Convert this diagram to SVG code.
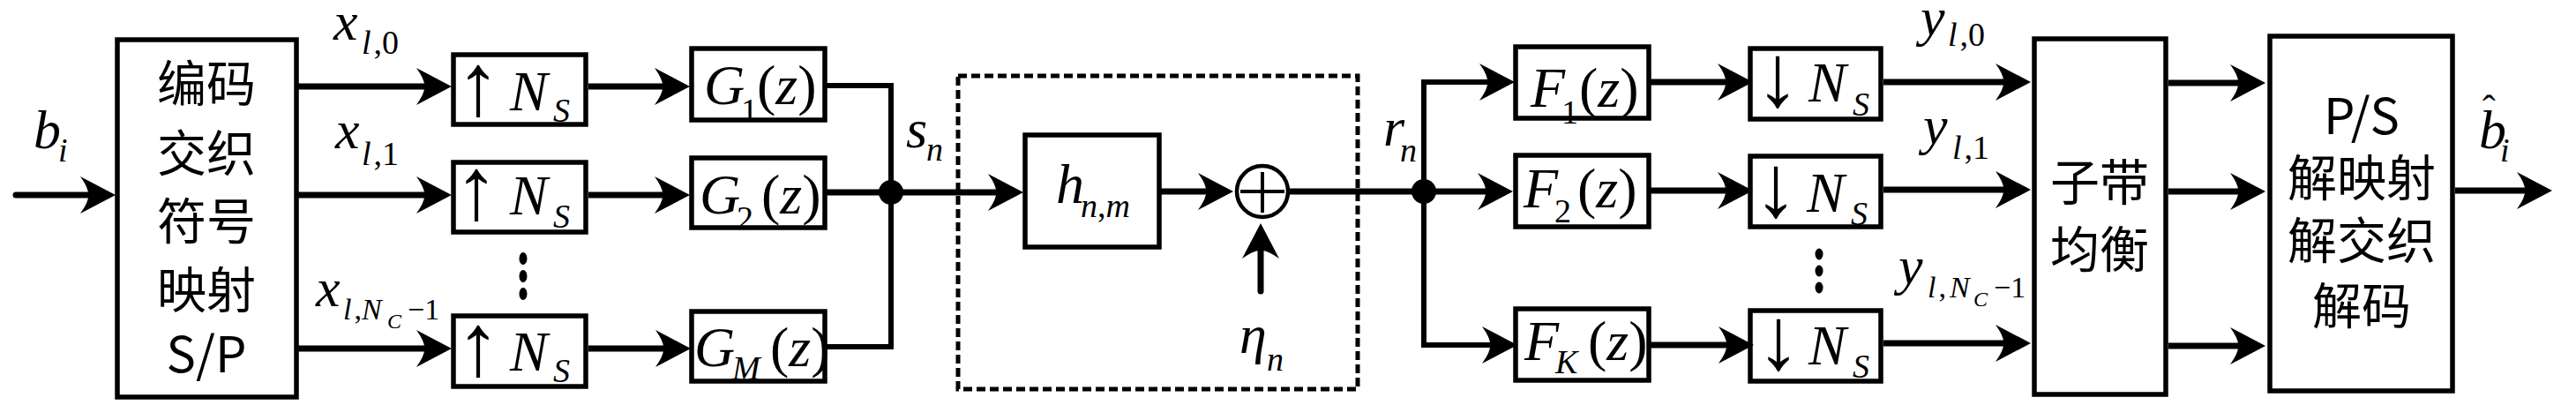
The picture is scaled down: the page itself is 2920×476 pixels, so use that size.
<svg xmlns="http://www.w3.org/2000/svg" width="2920" height="476" viewBox="0 0 2920 476">
<style>
.box{fill:none;stroke:#000;stroke-width:5.5}
.cjk{font-family:"Noto Sans CJK SC","Noto Sans",sans-serif;font-size:56px;text-anchor:middle;fill:#000}
.m{font-family:"Liberation Serif",serif;font-size:62px;fill:#000}
.b{font-family:"Liberation Serif",serif;font-size:64px;fill:#000}
.ar{font-family:"Liberation Serif",serif;font-size:100px;fill:#000}
.i{font-style:italic}
.s{font-size:38px}
.ss{font-size:24px}
.w{stroke:#000;stroke-width:7;fill:none}
.t{stroke:#000;stroke-width:6;fill:none}
.dot{fill:#000}
</style>
<defs>
<marker id="ah" markerUnits="userSpaceOnUse" orient="auto" refX="0" refY="0" markerWidth="60" markerHeight="60" overflow="visible">
<path d="M28,0 L-12,-21 Q-2,-7 -3,0 Q-2,7 -12,21 Z" fill="#000"/>
</marker>
</defs>
<rect width="2920" height="476" fill="#fff"/>

<g id="encoder">
<rect class="box" x="133" y="45" width="203" height="405"/>
<text class="cjk" x="234" y="115">编码</text>
<text class="cjk" x="234" y="194">交织</text>
<text class="cjk" x="234" y="271">符号</text>
<text class="cjk" x="234" y="349">映射</text>
<text class="cjk" x="234" y="422">S/P</text>
</g>

<g id="up1">
<rect class="box" x="514" y="62" width="150" height="79"/>
<text class="ar" x="517" y="130">↑</text>
<text class="b"><tspan class="i" x="578" y="125">N</tspan><tspan class="i s" x="627" y="138">S</tspan></text>
</g>
<g id="up2">
<rect class="box" x="514" y="184" width="150" height="79"/>
<text class="ar" x="515" y="248">↑</text>
<text class="b"><tspan class="i" x="578" y="243">N</tspan><tspan class="i s" x="627" y="258">S</tspan></text>
</g>
<g id="up3">
<rect class="box" x="514" y="358" width="150" height="80"/>
<text class="ar" x="517" y="425">↑</text>
<text class="b"><tspan class="i" x="578" y="420">N</tspan><tspan class="i s" x="627" y="433">S</tspan></text>
</g>
<g id="dots-left">
<ellipse class="dot" cx="593" cy="293" rx="4.5" ry="7"/>
<ellipse class="dot" cx="593" cy="313" rx="4.5" ry="7"/>
<ellipse class="dot" cx="593" cy="333" rx="4.5" ry="7"/>
</g>

<g id="g1">
<rect class="box" x="784" y="55" width="151" height="81"/>
<text class="b"><tspan class="i" x="798" y="118">G</tspan><tspan class="s" x="840" y="138">1</tspan><tspan x="858" y="118">(</tspan><tspan class="i">z</tspan><tspan>)</tspan></text>
</g>
<g id="g2">
<rect class="box" x="784" y="179" width="151" height="79"/>
<text class="b"><tspan class="i" x="793" y="242">G</tspan><tspan class="s" x="835" y="260">2</tspan><tspan x="863" y="242">(</tspan><tspan class="i">z</tspan><tspan>)</tspan></text>
</g>
<g id="gM">
<rect class="box" x="784" y="353" width="151" height="79"/>
<text class="b"><tspan class="i" x="787" y="415">G</tspan><tspan class="i s" x="830" y="430">M</tspan><tspan x="873" y="415">(</tspan><tspan class="i">z</tspan><tspan>)</tspan></text>
</g>

<g id="channel">
<rect x="1086" y="86" width="453" height="355" fill="none" stroke="#000" stroke-width="5" stroke-dasharray="10 5"/>
</g>
<g id="h">
<rect class="box" x="1162" y="153" width="152" height="127"/>
<text class="b"><tspan class="i" x="1197" y="230">h</tspan><tspan class="i s" x="1225" y="246">n</tspan><tspan class="s">,</tspan><tspan class="i s">m</tspan></text>
</g>
<g id="sum">
<circle cx="1431" cy="217" r="29" fill="none" stroke="#000" stroke-width="4.5"/>
<line x1="1406" y1="217" x2="1456" y2="217" stroke="#000" stroke-width="4"/>
<line x1="1431" y1="195" x2="1431" y2="241" stroke="#000" stroke-width="4"/>
</g>

<g id="f1">
<rect class="box" x="1718" y="53" width="151" height="81"/>
<text class="b"><tspan class="i" x="1735" y="121">F</tspan><tspan class="s" x="1770" y="140">1</tspan><tspan x="1790" y="121">(</tspan><tspan class="i">z</tspan><tspan>)</tspan></text>
</g>
<g id="f2">
<rect class="box" x="1718" y="176" width="151" height="81"/>
<text class="b"><tspan class="i" x="1727" y="235">F</tspan><tspan class="s" x="1762" y="252">2</tspan><tspan x="1788" y="235">(</tspan><tspan class="i">z</tspan><tspan>)</tspan></text>
</g>
<g id="fK">
<rect class="box" x="1718" y="350" width="151" height="81"/>
<text class="b"><tspan class="i" x="1728" y="408">F</tspan><tspan class="i s" x="1763" y="423">K</tspan><tspan x="1800" y="408">(</tspan><tspan class="i">z</tspan><tspan>)</tspan></text>
</g>

<g id="dn1">
<rect class="box" x="1984" y="55" width="148" height="80"/>
<text class="ar" x="1990" y="120">↓</text>
<text class="b"><tspan class="i" x="2050" y="115">N</tspan><tspan class="i s" x="2100" y="131">S</tspan></text>
</g>
<g id="dn2">
<rect class="box" x="1984" y="177" width="148" height="80"/>
<text class="ar" x="1988" y="245">↓</text>
<text class="b"><tspan class="i" x="2048" y="240">N</tspan><tspan class="i s" x="2098" y="255">S</tspan></text>
</g>
<g id="dn3">
<rect class="box" x="1984" y="352" width="148" height="80"/>
<text class="ar" x="1991" y="418">↓</text>
<text class="b"><tspan class="i" x="2050" y="413">N</tspan><tspan class="i s" x="2100" y="428">S</tspan></text>
</g>
<g id="dots-right">
<ellipse class="dot" cx="2062" cy="288" rx="4.5" ry="6.5"/>
<ellipse class="dot" cx="2062" cy="307" rx="4.5" ry="6.5"/>
<ellipse class="dot" cx="2062" cy="326" rx="4.5" ry="6.5"/>
</g>

<g id="equalizer">
<rect class="box" x="2306" y="44" width="149" height="403"/>
<text class="cjk" x="2380" y="227">子带</text>
<text class="cjk" x="2380" y="303">均衡</text>
</g>

<g id="decoder">
<rect class="box" x="2573" y="41" width="207" height="402"/>
<text class="cjk" x="2677" y="152">P/S</text>
<text class="cjk" x="2677" y="222">解映射</text>
<text class="cjk" x="2677" y="293">解交织</text>
<text class="cjk" x="2677" y="367">解码</text>
</g>

<g id="connectors">
<line class="w" x1="18" y1="221" x2="103" y2="221" stroke-linecap="round" marker-end="url(#ah)"/>
<line class="w" x1="338" y1="98" x2="484" y2="98" marker-end="url(#ah)"/>
<line class="w" x1="338" y1="221" x2="484" y2="221" marker-end="url(#ah)"/>
<line class="w" x1="338" y1="395" x2="484" y2="395" marker-end="url(#ah)"/>
<line class="w" x1="667" y1="98" x2="754" y2="98" marker-end="url(#ah)"/>
<line class="w" x1="667" y1="221" x2="754" y2="221" marker-end="url(#ah)"/>
<line class="w" x1="667" y1="395" x2="755" y2="395" marker-end="url(#ah)"/>
<polyline class="t" points="937,97 1010,97 1010,393 937,393"/>
<line class="w" x1="937" y1="218" x2="1132" y2="218" marker-end="url(#ah)"/>
<circle class="dot" cx="1010" cy="218" r="14"/>
<line class="w" x1="1316" y1="217" x2="1370" y2="217" marker-end="url(#ah)"/>
<line class="w" x1="1429" y1="330" x2="1429" y2="281" stroke-linecap="round" marker-end="url(#ah)"/>
<line class="w" x1="1460" y1="217" x2="1614" y2="217"/>
<circle class="dot" cx="1614" cy="217" r="14"/>
<polyline class="t" points="1689,93 1614,93 1614,391 1692,391"/>
<line class="t" x1="1614" y1="93" x2="1689" y2="93" marker-end="url(#ah)"/>
<line class="w" x1="1614" y1="217" x2="1687" y2="217" marker-end="url(#ah)"/>
<line class="t" x1="1614" y1="391" x2="1692" y2="391" marker-end="url(#ah)"/>
<line class="w" x1="1871" y1="93" x2="1959" y2="93" marker-end="url(#ah)"/>
<line class="w" x1="1871" y1="216" x2="1959" y2="216" marker-end="url(#ah)"/>
<line class="w" x1="1871" y1="391" x2="1960" y2="391" marker-end="url(#ah)"/>
<line class="w" x1="2135" y1="93" x2="2274" y2="93" marker-end="url(#ah)"/>
<line class="w" x1="2135" y1="215" x2="2274" y2="215" marker-end="url(#ah)"/>
<line class="w" x1="2135" y1="389" x2="2274" y2="389" marker-end="url(#ah)"/>
<line class="w" x1="2458" y1="94" x2="2540" y2="94" marker-end="url(#ah)"/>
<line class="w" x1="2458" y1="217" x2="2540" y2="217" marker-end="url(#ah)"/>
<line class="w" x1="2458" y1="392" x2="2540" y2="392" marker-end="url(#ah)"/>
<line class="w" x1="2783" y1="216" x2="2865" y2="216" marker-end="url(#ah)"/>
</g>

<g id="labels">
<text class="m"><tspan class="i" x="38" y="168">b</tspan><tspan class="i s" x="66" y="183">i</tspan></text>
<text class="m"><tspan class="i" x="378" y="45">x</tspan><tspan class="i s" x="410" y="61">l</tspan><tspan class="s" dx="3">,0</tspan></text>
<text class="m"><tspan class="i" x="380" y="168">x</tspan><tspan class="i s" x="410" y="187">l</tspan><tspan class="s" dx="3">,1</tspan></text>
<text class="m"><tspan class="i" x="358" y="347">x</tspan><tspan class="i s" x="389" y="362" style="font-size:34px">l</tspan><tspan style="font-size:34px" dx="3">,</tspan><tspan class="i" x="410" y="362" style="font-size:34px">N</tspan><tspan class="i ss" x="439" y="372">C</tspan><tspan x="462" y="362" style="font-size:34px">−1</tspan></text>
<text class="m"><tspan class="i" x="1027" y="167">s</tspan><tspan class="i s" x="1050" y="182">n</tspan></text>
<text class="m"><tspan class="i" x="1405" y="400">η</tspan><tspan class="i s" x="1436" y="420">n</tspan></text>
<text class="m"><tspan class="i" x="1568" y="165">r</tspan><tspan class="i s" x="1587" y="183">n</tspan></text>
<text class="m"><tspan class="i" x="2177" y="40">y</tspan><tspan class="i s" x="2208" y="52">l</tspan><tspan class="s" dx="3">,0</tspan></text>
<text class="m"><tspan class="i" x="2180" y="163">y</tspan><tspan class="i s" x="2213" y="180">l</tspan><tspan class="s" dx="3">,1</tspan></text>
<text class="m"><tspan class="i" x="2152" y="322">y</tspan><tspan class="i" x="2185" y="337" style="font-size:34px">l</tspan><tspan style="font-size:34px" dx="3">,</tspan><tspan class="i" x="2210" y="337" style="font-size:34px">N</tspan><tspan class="i ss" x="2237" y="347">C</tspan><tspan x="2260" y="337" style="font-size:34px">−1</tspan></text>
<text class="m"><tspan class="i" x="2810" y="168">b</tspan><tspan class="i s" x="2834" y="183">i</tspan></text>
<text class="m" x="2814" y="138" style="font-size:44px">ˆ</text>
</g>
</svg>
